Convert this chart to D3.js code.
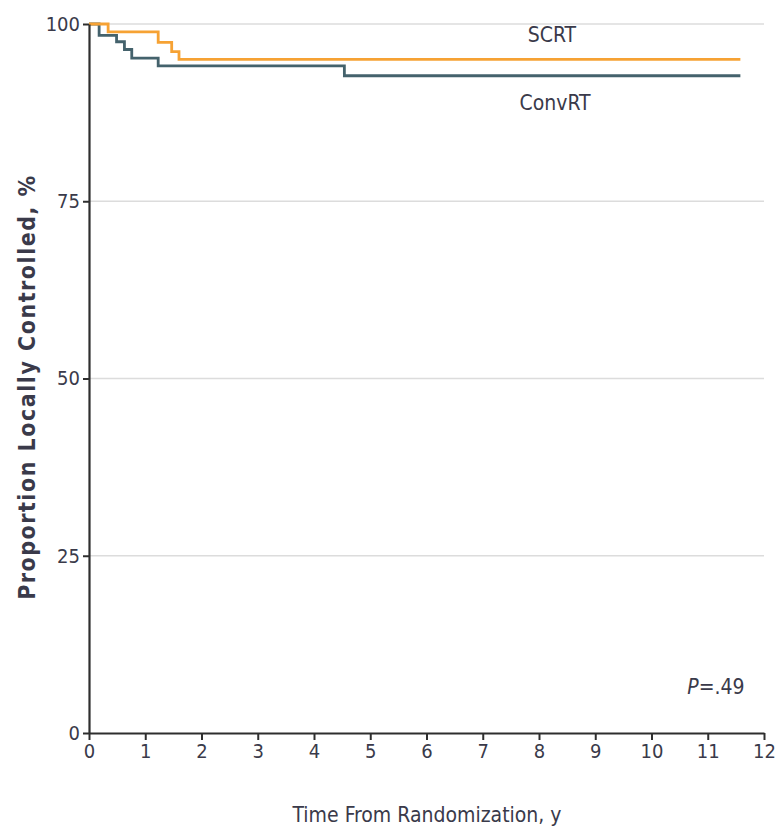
<!DOCTYPE html>
<html>
<head>
<meta charset="utf-8">
<script src="https://cdn.jsdelivr.net/npm/d3@7"></script>
<style>
  body { margin: 0; background: #fff; }
  text { font-family: "DejaVu Sans Condensed", "DejaVu Sans", sans-serif; font-stretch: condensed; fill: #3a3a4a; }
</style>
</head>
<body>
<svg id="km" width="777" height="834"></svg>
<script>
// Kaplan-Meier steps: [time in years, % locally controlled]
var scrt = [[0, 100], [0.34, 98.9], [1.23, 97.4], [1.47, 96.1], [1.6, 95.0], [11.58, 95.0]]
var convrt = [[0, 100], [0.18, 98.4], [0.49, 97.5], [0.63, 96.4], [0.76, 95.2], [1.23, 94.1], [4.54, 92.7], [11.58, 92.7]]
var x_ticks = [0, 1, 2, 3, 4, 5, 6, 7, 8, 9, 10, 11, 12]
var y_ticks = [0, 25, 50, 75, 100]

var svg = d3.select("#km")
var margin = {left: 89, right: 13, top: 24, bottom: 101}
var width = parseFloat(svg.attr("width"))
var height = parseFloat(svg.attr("height"))

var x = d3.scaleLinear().domain([0, 12]).range([margin.left, width - margin.right])
var y = d3.scaleLinear().domain([0, 100]).range([height - margin.bottom, margin.top])

// light gridlines
svg.append("g")
    .selectAll("line")
    .data(y_ticks.filter(function(d){ return d > 0 }))
    .enter()
    .append("line")
    .attr("x1", x(0))
    .attr("x2", x(12))
    .attr("y1", function(d){ return y(d) })
    .attr("y2", function(d){ return y(d) })
    .attr("stroke", "#dcdcdc")
    .attr("stroke-width", 1.5)

var line = d3.line()
    .x(function(d){ return x(d[0]) })
    .y(function(d){ return y(d[1]) })
    .curve(d3.curveStepAfter)

svg.append("path")
    .datum(convrt)
    .attr("fill", "none")
    .attr("stroke", "#44626c")
    .attr("stroke-width", 2.8)
    .attr("d", line)

svg.append("path")
    .datum(scrt)
    .attr("fill", "none")
    .attr("stroke", "#f6a234")
    .attr("stroke-width", 2.8)
    .attr("d", line)

// axes
svg.append("g")
    .attr("transform", "translate(0," + y(0) + ")")
    .call(d3.axisBottom(x).tickValues(x_ticks).tickSize(7).tickPadding(4).tickSizeOuter(0))
svg.append("g")
    .attr("transform", "translate(" + x(0) + ",0)")
    .call(d3.axisLeft(y).tickValues(y_ticks).tickSize(6).tickPadding(3).tickSizeOuter(0))

svg.selectAll(".domain").attr("stroke", "#2e2e2e").attr("stroke-width", 2.2)
svg.selectAll(".tick line").attr("stroke", "#2e2e2e").attr("stroke-width", 2)
svg.selectAll(".tick text")
    .attr("font-size", 20)
    .style("font-family", "'DejaVu Sans Condensed', sans-serif")
    .attr("fill", "#3a3a4a")

// axis titles
svg.append("text")
    .attr("text-anchor", "middle")
    .attr("x", 427)
    .attr("y", 822)
    .attr("font-size", 21)
    .text("Time From Randomization, y")

svg.append("text")
    .attr("text-anchor", "middle")
    .attr("transform", "translate(35," + 387 + ") rotate(-90)")
    .attr("font-size", 23)
    .attr("letter-spacing", 1.5)
    .attr("font-weight", "bold")
    .text("Proportion Locally Controlled, %")

// series labels
svg.append("text")
    .attr("text-anchor", "middle")
    .attr("x", 552)
    .attr("y", 42)
    .attr("font-size", 21)
    .text("SCRT")

svg.append("text")
    .attr("text-anchor", "middle")
    .attr("x", 555)
    .attr("y", 110)
    .attr("font-size", 21)
    .text("ConvRT")

var p = svg.append("text")
    .attr("text-anchor", "middle")
    .attr("x", 716)
    .attr("y", 694)
    .attr("font-size", 21)
p.append("tspan").attr("font-style", "italic").text("P")
p.append("tspan").text("=.49")
</script>
</body>
</html>
